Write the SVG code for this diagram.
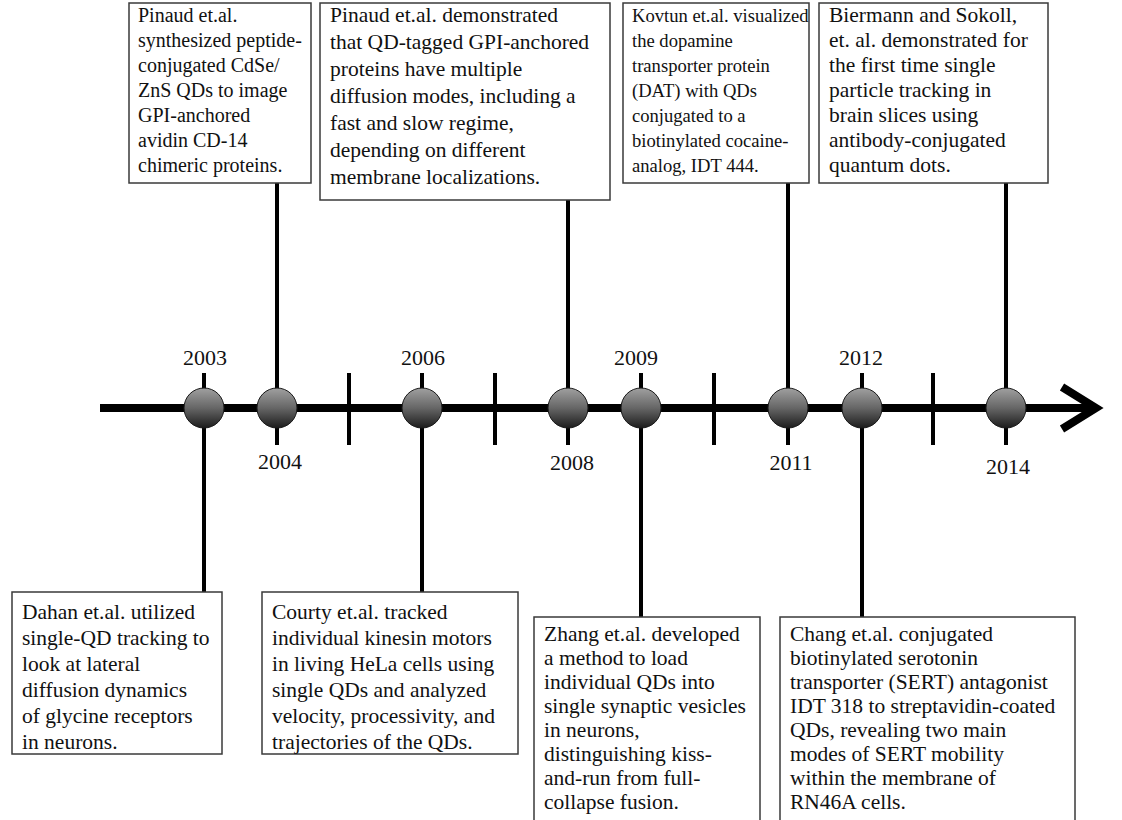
<svg xmlns="http://www.w3.org/2000/svg" width="1122" height="820" viewBox="0 0 1122 820">
<style>
  .box{fill:#fff;stroke:#3a3a3a;stroke-width:1.5}
  .t{font-family:"Liberation Serif","Times New Roman",serif;font-size:21.5px;fill:#111}
  .ta{font-size:20px}
  .tc{font-size:18.6px}
  .yr{font-family:"Liberation Serif","Times New Roman",serif;font-size:22px;fill:#111;text-anchor:middle}
  .c{stroke:#000;stroke-width:4;fill:none}
  .axis{stroke:#000;stroke-width:8;fill:none}
  .dot{fill:url(#g);stroke:#1a1a1a;stroke-width:1}
</style>
<defs>
  <linearGradient id="g" x1="0" y1="0" x2="0" y2="1">
    <stop offset="0" stop-color="#a0a0a0"/>
    <stop offset="0.5" stop-color="#666"/>
    <stop offset="1" stop-color="#1c1c1c"/>
  </linearGradient>
</defs>
<rect width="1122" height="820" fill="#fff"/>

<g id="connectors">
  <line class="axis" x1="100" y1="408" x2="1092" y2="408"/>
  <polyline class="axis" points="1062,387 1096,408 1062,429" stroke-linejoin="miter"/>
  <line class="c" x1="349" y1="373" x2="349" y2="445"/>
  <line class="c" x1="495" y1="373" x2="495" y2="445"/>
  <line class="c" x1="714" y1="373" x2="714" y2="445"/>
  <line class="c" x1="933" y1="373" x2="933" y2="445"/>
  <line class="c" x1="204" y1="373" x2="204" y2="592"/>
  <line class="c" x1="277" y1="183" x2="277" y2="445"/>
  <line class="c" x1="422" y1="373" x2="422" y2="592"/>
  <line class="c" x1="568" y1="200" x2="568" y2="445"/>
  <line class="c" x1="641" y1="373" x2="641" y2="617"/>
  <line class="c" x1="788" y1="183" x2="788" y2="445"/>
  <line class="c" x1="862" y1="373" x2="862" y2="617"/>
  <line class="c" x1="1006" y1="183" x2="1006" y2="445"/>
</g>

<g id="y2003"><circle class="dot" cx="204" cy="408" r="20"/><text class="yr" x="205" y="365">2003</text></g>
<g id="y2004"><circle class="dot" cx="277" cy="408" r="20"/><text class="yr" x="280" y="469">2004</text></g>
<g id="y2006"><circle class="dot" cx="422" cy="408" r="20"/><text class="yr" x="423" y="365">2006</text></g>
<g id="y2008"><circle class="dot" cx="568" cy="408" r="20"/><text class="yr" x="572" y="470">2008</text></g>
<g id="y2009"><circle class="dot" cx="641" cy="408" r="20"/><text class="yr" x="636" y="365">2009</text></g>
<g id="y2011"><circle class="dot" cx="788" cy="408" r="20"/><text class="yr" x="791" y="470">2011</text></g>
<g id="y2012"><circle class="dot" cx="862" cy="408" r="20"/><text class="yr" x="861" y="365">2012</text></g>
<g id="y2014"><circle class="dot" cx="1006" cy="408" r="20"/><text class="yr" x="1008" y="474">2014</text></g>

<g id="box-pinaud2004">
  <rect class="box" x="129" y="3" width="182" height="180"/>
  <text class="t ta" x="138" y="22">Pinaud et.al.</text>
  <text class="t ta" x="138" y="47">synthesized peptide-</text>
  <text class="t ta" x="138" y="72">conjugated CdSe/</text>
  <text class="t ta" x="138" y="97">ZnS QDs to image</text>
  <text class="t ta" x="138" y="122">GPI-anchored</text>
  <text class="t ta" x="138" y="147">avidin CD-14</text>
  <text class="t ta" x="138" y="172">chimeric proteins.</text>
</g>
<g id="box-pinaud2008">
  <rect class="box" x="320" y="3" width="290" height="197"/>
  <text class="t" x="330" y="22">Pinaud et.al. demonstrated</text>
  <text class="t" x="330" y="49">that QD-tagged GPI-anchored</text>
  <text class="t" x="330" y="76">proteins have multiple</text>
  <text class="t" x="330" y="103">diffusion modes, including a</text>
  <text class="t" x="330" y="130">fast and slow regime,</text>
  <text class="t" x="330" y="157">depending on different</text>
  <text class="t" x="330" y="184">membrane localizations.</text>
</g>
<g id="box-kovtun2011">
  <rect class="box" x="623" y="3" width="186" height="180"/>
  <text class="t tc" x="632" y="22">Kovtun et.al. visualized</text>
  <text class="t tc" x="632" y="47">the dopamine</text>
  <text class="t tc" x="632" y="72">transporter protein</text>
  <text class="t tc" x="632" y="97">(DAT) with QDs</text>
  <text class="t tc" x="632" y="122">conjugated to a</text>
  <text class="t tc" x="632" y="147">biotinylated cocaine-</text>
  <text class="t tc" x="632" y="172">analog, IDT 444.</text>
</g>
<g id="box-biermann2014">
  <rect class="box" x="819" y="3" width="229" height="180"/>
  <text class="t" x="829" y="22">Biermann and Sokoll,</text>
  <text class="t" x="829" y="47">et. al. demonstrated for</text>
  <text class="t" x="829" y="72">the first time single</text>
  <text class="t" x="829" y="97">particle tracking in</text>
  <text class="t" x="829" y="122">brain slices using</text>
  <text class="t" x="829" y="147">antibody-conjugated</text>
  <text class="t" x="829" y="172">quantum dots.</text>
</g>

<g id="box-dahan2003">
  <rect class="box" x="12" y="592" width="210" height="162"/>
  <text class="t" x="22" y="619">Dahan et.al. utilized</text>
  <text class="t" x="22" y="645">single-QD tracking to</text>
  <text class="t" x="22" y="671">look at lateral</text>
  <text class="t" x="22" y="697">diffusion dynamics</text>
  <text class="t" x="22" y="723">of glycine receptors</text>
  <text class="t" x="22" y="749">in neurons.</text>
</g>
<g id="box-courty2006">
  <rect class="box" x="262" y="592" width="256" height="162"/>
  <text class="t" x="272" y="619">Courty et.al. tracked</text>
  <text class="t" x="272" y="645">individual kinesin motors</text>
  <text class="t" x="272" y="671">in living HeLa cells using</text>
  <text class="t" x="272" y="697">single QDs and analyzed</text>
  <text class="t" x="272" y="723">velocity, processivity, and</text>
  <text class="t" x="272" y="749">trajectories of the QDs.</text>
</g>
<g id="box-zhang2009">
  <rect class="box" x="534" y="617" width="226" height="210"/>
  <text class="t" x="544" y="641">Zhang et.al. developed</text>
  <text class="t" x="544" y="665">a method to load</text>
  <text class="t" x="544" y="689">individual QDs into</text>
  <text class="t" x="544" y="713">single synaptic vesicles</text>
  <text class="t" x="544" y="737">in neurons,</text>
  <text class="t" x="544" y="761">distinguishing kiss-</text>
  <text class="t" x="544" y="785">and-run from full-</text>
  <text class="t" x="544" y="809">collapse fusion.</text>
</g>
<g id="box-chang2012">
  <rect class="box" x="780" y="617" width="295" height="210"/>
  <text class="t" x="790" y="641">Chang et.al. conjugated</text>
  <text class="t" x="790" y="665">biotinylated serotonin</text>
  <text class="t" x="790" y="689">transporter (SERT) antagonist</text>
  <text class="t" x="790" y="713">IDT 318 to streptavidin-coated</text>
  <text class="t" x="790" y="737">QDs, revealing two main</text>
  <text class="t" x="790" y="761">modes of SERT mobility</text>
  <text class="t" x="790" y="785">within the membrane of</text>
  <text class="t" x="790" y="809">RN46A cells.</text>
</g>
</svg>
